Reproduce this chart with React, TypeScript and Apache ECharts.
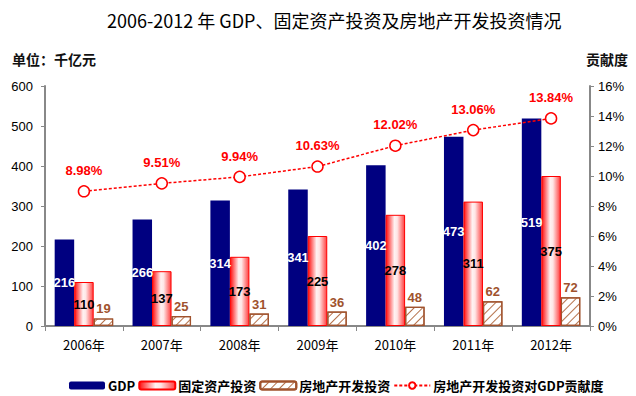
import React, { useEffect, useRef } from "react";
import * as echarts from "echarts";

const years = ["2006年", "2007年", "2008年", "2009年", "2010年", "2011年", "2012年"];
const gdp = [216, 266, 314, 341, 402, 473, 519];
const fixedInvest = [110, 137, 173, 225, 278, 311, 375];
const realEstate = [19, 25, 31, 36, 48, 62, 72];
const contribution = [8.98, 9.51, 9.94, 10.63, 12.02, 13.06, 13.84];

const FONT = "'Liberation Sans', Arial, 'Noto Sans CJK SC', sans-serif";
const CJK = "'Noto Sans CJK SC', 'Liberation Sans', sans-serif";

export default function App() {
  const ref = useRef<HTMLDivElement>(null);
  useEffect(() => {
    if (!ref.current) return;
    const chart = echarts.init(ref.current, null, { renderer: "svg" });
    const redGrad = new echarts.graphic.LinearGradient(0, 0, 1, 0, [
      { offset: 0, color: "#ff1010" },
      { offset: 0.45, color: "#fff2f2" },
      { offset: 0.6, color: "#ffe6e6" },
      { offset: 1, color: "#ff4040" },
    ]);
    chart.setOption({
      animation: false,
      backgroundColor: "#fff",
      title: {
        text: "2006-2012 年 GDP、固定资产投资及房地产开发投资情况",
        left: 102,
        top: 6,
        textStyle: { fontFamily: CJK, fontSize: 18, fontWeight: "normal", color: "#000" },
      },
      graphic: [
        { type: "text", left: 12, top: 52, style: { text: "单位：千亿元", font: `bold 14px ${CJK}`, fill: "#111" } },
        { type: "text", right: 8, top: 52, style: { text: "贡献度", font: `bold 14px ${CJK}`, fill: "#111" } },
      ],
      legend: {
        left: 64,
        top: 374,
        itemWidth: 36,
        itemHeight: 8,
        itemGap: 3,
        textStyle: { fontFamily: CJK, fontSize: 13, fontWeight: "bold", color: "#000", padding: [0, 0, 0, -2] },
        data: ["GDP", "固定资产投资", "房地产开发投资", "房地产开发投资对GDP贡献度"],
      },
      grid: { left: 45, right: 46, top: 86, bottom: 70 },
      xAxis: {
        type: "category",
        data: years,
        axisLine: { lineStyle: { color: "#888", width: 2 } },
        axisTick: { show: true, length: 5, lineStyle: { color: "#888" } },
        axisLabel: { fontFamily: CJK, fontSize: 13, color: "#000", margin: 12 },
      },
      yAxis: [
        {
          type: "value",
          min: 0,
          max: 600,
          interval: 100,
          splitLine: { show: false },
          axisLine: { show: true, lineStyle: { color: "#888", width: 2 } },
          axisTick: { show: true, length: 4, lineStyle: { color: "#888" } },
          axisLabel: { fontFamily: FONT, fontSize: 13, color: "#000", margin: 12 },
        },
        {
          type: "value",
          min: 0,
          max: 16,
          interval: 2,
          splitLine: { show: false },
          axisLine: { show: true, lineStyle: { color: "#888", width: 2 } },
          axisTick: { show: true, length: 4, lineStyle: { color: "#888" } },
          axisLabel: { fontFamily: FONT, fontSize: 13, color: "#000", margin: 8, formatter: "{value}%" },
        },
      ],
      series: [
        {
          name: "GDP",
          type: "bar",
          data: gdp,
          barWidth: 19.5,
          barGap: "0%",
          itemStyle: { color: "#000080" },
          label: { show: true, position: "inside", color: "#fff", fontFamily: FONT, fontSize: 13, fontWeight: "bold" },
        },
        {
          name: "固定资产投资",
          type: "bar",
          data: fixedInvest,
          barWidth: 19.5,
          barGap: "0%",
          itemStyle: { color: redGrad, borderColor: "#ff0000", borderWidth: 1 },
          label: { show: true, position: "inside", color: "#000", fontFamily: FONT, fontSize: 13, fontWeight: "bold" },
        },
        {
          name: "房地产开发投资",
          type: "bar",
          data: realEstate,
          barWidth: 19.5,
          barGap: "0%",
          itemStyle: {
            color: "#fff",
            borderColor: "#a0522d",
            borderWidth: 1.2,
            decal: {
              symbol: "rect",
              symbolSize: 1,
              dashArrayX: [1, 0],
              dashArrayY: [1, 5],
              rotation: -Math.PI / 4,
              color: "#b5714a",
              backgroundColor: "#fff",
            },
          },
          label: { show: true, position: "top", distance: 3, color: "#a0522d", fontFamily: FONT, fontSize: 13, fontWeight: "bold" },
        },
        {
          name: "房地产开发投资对GDP贡献度",
          type: "line",
          yAxisIndex: 1,
          data: contribution,
          symbol: "circle",
          symbolSize: 11,
          lineStyle: { color: "#ff0000", width: 1.5, type: [3, 2] },
          itemStyle: { color: "#fff", borderColor: "#ff0000", borderWidth: 1.5 },
          label: {
            show: true,
            position: "top",
            distance: 8,
            color: "#ff0000",
            fontFamily: FONT,
            fontSize: 13,
            fontWeight: "bold",
            formatter: (p: any) => p.value.toFixed(2) + "%",
          },
          z: 5,
        },
      ],
    });
    return () => chart.dispose();
  }, []);
  return <div ref={ref} style={{ width: 636, height: 396, position: "absolute", left: 0, top: 0 }} />;
}
